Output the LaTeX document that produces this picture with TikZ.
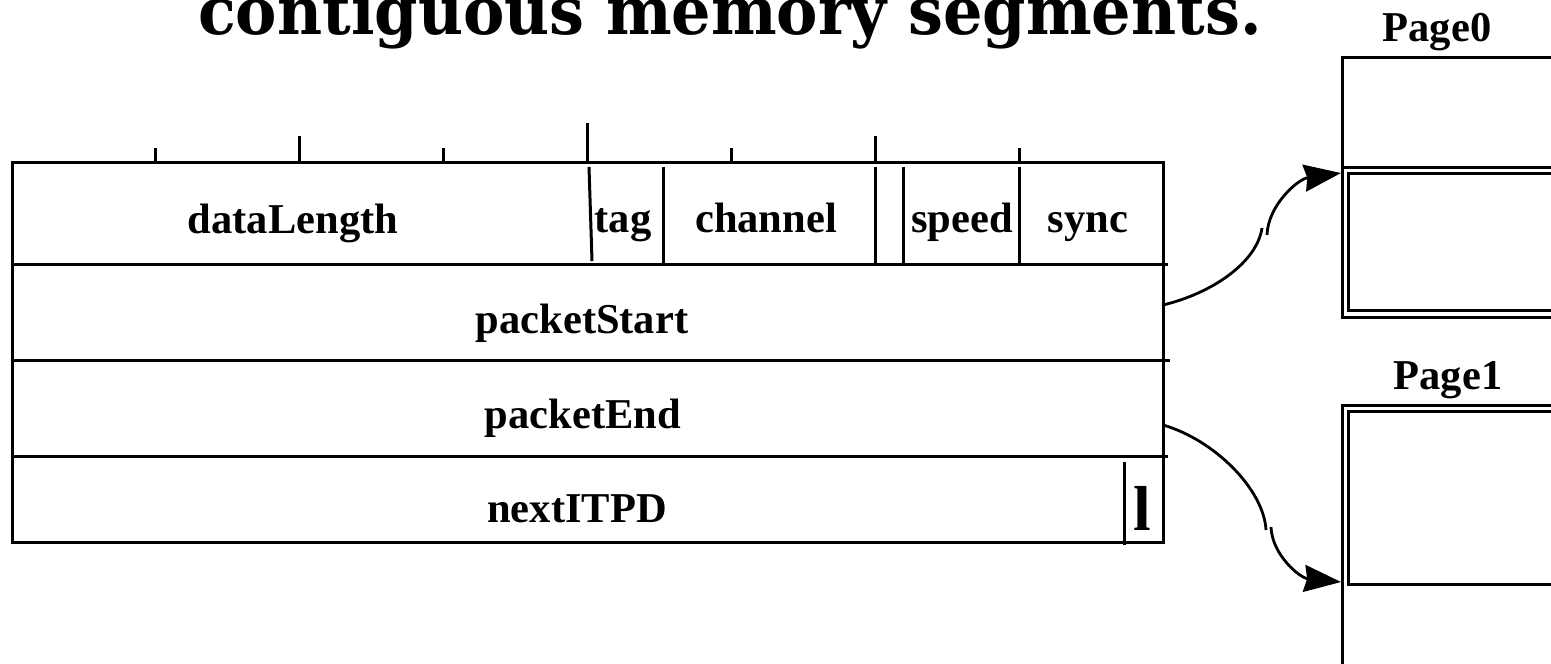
\documentclass[tikz,border=0pt]{standalone}
\usepackage{fontspec}
\setmainfont{Liberation Serif}
\newfontfamily\headfont{DejaVu Serif}
\usetikzlibrary{arrows.meta}

\tikzset{
  frame/.style={line width=3pt, line cap=rect},
  divider/.style={line width=3pt},
  tick/.style={line width=3pt},
  link/.style={line width=2.8pt},
  linkhead/.style={link, -{Stealth[length=37pt, width=27pt, inset=3pt]}},
  lbl/.style={font=\fontsize{42.5}{50}\selectfont\bfseries, inner sep=0pt, anchor=base},
}

\begin{document}
\begin{tikzpicture}[x=1pt, y=-1pt]
  \clip (0,0) rectangle (1551,664);
  \fill[white] (0,0) rectangle (1551,664);

  % heading, cut by the top edge
  \node[font=\headfont\fontsize{66}{72}\selectfont\bfseries, inner sep=0pt, anchor=base west,
        xscale=0.94]
    (title) at (198,34) {contiguous memory segments.};

  % descriptor frame
  \draw[frame] (12,162) rectangle (1163,542);
  \draw[frame] (12,264) -- (1166,264);
  \draw[frame] (12,360) -- (1168,360);
  \draw[frame] (12,456) -- (1166,456);

  % bit ruler above the first word
  \foreach \x/\t in {155/148, 299/136, 443/148, 587/123, 731/148, 875/136, 1019/148}
    \draw[tick] (\x,\t) -- (\x,162);

  % field boundaries of the first word
  \draw[divider] (589,167) -- (592,261);
  \foreach \x in {663, 875, 903, 1019}
    \draw[divider] (\x,167) -- (\x,264);
  \draw[divider] (1124,462) -- (1124,545);

  % field names
  \node[lbl] (dataLength) at (293,233) {dataLength};
  \node[lbl] (tag)        at (623,232) {tag};
  \node[lbl] (channel)    at (766,232) {channel};
  \node[lbl] (speed)      at (962,232) {speed};
  \node[lbl] (sync)       at (1088,232) {sync};
  \node[lbl] (packetStart) at (582,333) {packetStart};
  \node[lbl] (packetEnd)   at (583,428) {packetEnd};
  \node[lbl] (nextITPD)    at (577,522) {nextITPD};
  \node[lbl, font=\fontsize{63.5}{70}\selectfont\bfseries] (lastBit) at (1142,530) {l};

  % page 0
  \node[lbl] (page0) at (1437,41) {Page0};
  \draw[frame] (1560,57) -- (1342,57) -- (1342,317) -- (1560,317);
  \draw[frame] (1345,167) -- (1560,167);
  \draw[frame] (1560,173) -- (1348,173) -- (1348,310) -- (1560,310);

  % page 1
  \node[lbl] (page1) at (1448,389) {Page1};
  \draw[frame] (1560,405) -- (1342,405) -- (1342,670);
  \draw[frame] (1560,411) -- (1348,411) -- (1348,584) -- (1560,584);

  % pointer ends
  \coordinate (startOut) at (1163,305);
  \coordinate (startMidA) at (1262,228);
  \coordinate (startMidB) at (1267,235);
  \coordinate (seg0) at (1341,173);
  \coordinate (endOut) at (1163,425);
  \coordinate (endMidA) at (1266,530);
  \coordinate (endMidB) at (1271,527);
  \coordinate (seg1) at (1341,582);

  % packetStart -> Page0
  \draw[link] (startOut) .. controls (1213,293) and (1257,262) .. (startMidA);
  \draw[linkhead] (startMidB) .. controls (1268,205) and (1298,179) .. (seg0);

  % packetEnd -> Page1
  \draw[link] (endOut) .. controls (1215,440) and (1264,490) .. (endMidA);
  \draw[linkhead] (endMidB) .. controls (1272,555) and (1300,578) .. (seg1);
\end{tikzpicture}
\end{document}
